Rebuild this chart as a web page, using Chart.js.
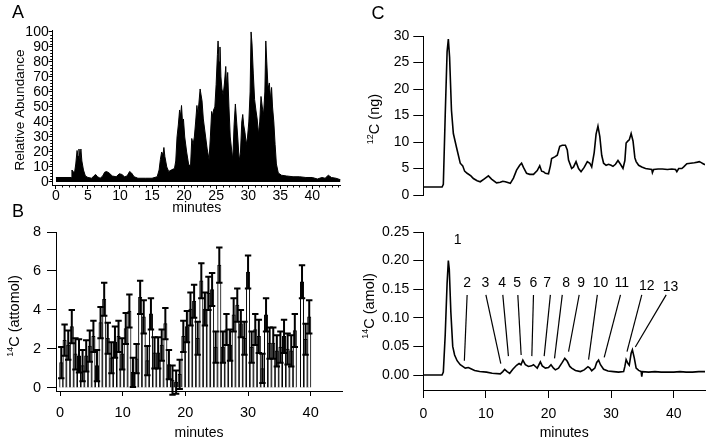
<!DOCTYPE html>
<html>
<head>
<meta charset="utf-8">
<script src="https://cdn.jsdelivr.net/npm/chart.js@4.4.1/dist/chart.umd.min.js"></script>
<style>
    html, body { margin: 0; padding: 0; background: #fff; }
    #wrap { position: relative; width: 712px; height: 445px; overflow: hidden; }
    #wrap canvas { position: absolute; left: 0; top: 0; }
</style>
</head>
<body>
<div id="wrap">
    <canvas id="chartA" width="712" height="445"></canvas>
    <canvas id="chartB" width="712" height="445"></canvas>
    <canvas id="chartC1" width="712" height="445"></canvas>
    <canvas id="chartC2" width="712" height="445"></canvas>
</div>
<script>
// Panel A: total ion chromatogram (minutes, relative abundance)
const aTimes = [0, 2.4, 2.5, 2.7, 2.9, 3.1, 3.3, 3.45, 3.6, 3.75, 3.9, 4.05, 4.3, 4.6, 5.0, 5.6, 5.9, 6.2, 6.5, 6.9,
    7.3, 7.6, 7.9, 8.3, 8.8, 9.4, 9.9, 10.3, 10.7, 11.1, 11.5, 11.8, 12.2, 12.8, 14, 15, 15.8, 16.1, 16.3, 16.5,
    16.7, 16.85, 17.0, 17.3, 17.6, 18.0, 18.5, 18.7, 18.9, 19.1, 19.3, 19.45, 19.6, 19.75, 19.9, 20.1, 20.4, 20.7, 21.0, 21.2,
    21.4, 21.6, 21.8, 22.0, 22.15, 22.3, 22.5, 22.65, 22.8, 23.0, 23.3, 23.6, 23.9, 24.1, 24.3, 24.45, 24.6, 24.8, 25.0, 25.2,
    25.3, 25.45, 25.6, 25.75, 25.9, 26.1, 26.3, 26.5, 26.65, 26.8, 27.0, 27.2, 27.4, 27.6, 27.8, 28.0, 28.2, 28.4, 28.6, 28.8,
    29.0, 29.15, 29.3, 29.5, 29.7, 29.9, 30.1, 30.3, 30.45, 30.6, 30.8, 31.0, 31.2, 31.4, 31.6, 31.8, 32.0, 32.2, 32.4, 32.6,
    32.75, 32.9, 33.1, 33.3, 33.5, 33.65, 33.8, 34.0, 34.2, 34.4, 34.7, 35.2, 36, 37, 38, 39, 40, 40.8, 41.5, 42,
    42.5, 43.0, 43.7, 44.4];
const aValues = [3, 3, 8, 7, 6, 12, 21, 17, 22, 15, 22, 14, 8, 4, 3, 2.5, 4, 5, 3.5, 2.5,
    4, 6.5, 7, 6, 4, 3.5, 5.5, 5, 3.5, 4, 7, 6, 3.5, 2.5, 2.5, 2.5, 3.5, 8, 15, 20,
    18, 23, 17, 10, 7, 8, 9, 14, 30, 38, 48, 44, 51, 40, 42, 30, 20, 12, 10, 29,
    25, 30, 40, 51, 45, 52, 62, 58, 54, 42, 32, 22, 15, 30, 47, 44, 48, 50, 65, 85,
    94, 80, 90, 70, 62, 58, 66, 77, 62, 73, 50, 30, 22, 15, 38, 52, 40, 28, 14, 20,
    40, 45, 38, 33, 25, 30, 40, 60, 100, 92, 72, 55, 48, 42, 32, 40, 57, 50, 45, 60,
    94, 80, 62, 66, 55, 63, 50, 40, 25, 12, 6, 4.5, 4, 3.5, 3.5, 3, 3, 2, 3, 2.5,
    4.5, 3, 2.5, 1.5];
const aMinorX = [1, 2, 3, 4, 6, 7, 8, 9, 11, 12, 13, 14, 16, 17, 18, 19, 21, 22, 23, 24, 26, 27, 28, 29,
    31, 32, 33, 34, 36, 37, 38, 39, 41, 42, 43, 44];
const aMinorY = [2, 4, 6, 8, 12, 14, 16, 18, 22, 24, 26, 28, 32, 34, 36, 38, 42, 44, 46, 48, 52, 54, 56, 58,
    62, 64, 66, 68, 72, 74, 76, 78, 82, 84, 86, 88, 92, 94, 96, 98];

// Panel B: 14C per fraction (attomol) with error bars
const bTimes = [0.2, 0.73, 1.31, 1.88, 2.46, 3.03, 3.6, 4.18, 4.75, 5.33, 5.9, 6.47, 7.05, 7.62, 8.2, 8.77, 9.34, 9.92,
    10.49, 11.07, 11.64, 12.21, 12.79, 13.36, 13.94, 14.51, 15.08, 15.66, 16.23, 16.81, 17.38, 17.95, 18.53, 19.1, 19.68,
    20.25, 20.82, 21.4, 21.97, 22.55, 23.12, 23.69, 24.27, 24.84, 25.42, 25.99, 26.56, 27.14, 27.71, 28.29, 28.86, 29.43,
    30.01, 30.58, 31.16, 31.73, 32.3, 32.88, 33.45, 34.03, 34.6, 35.17, 35.75, 36.32, 36.9, 37.47, 38.62, 39.19, 39.77];
const bMeans = [1.3, 2.45, 2.2, 3.15, 1.75, 1.65, 1.15, 1.65, 2.15, 2.65, 1.15, 3.35, 4.55, 2.55, 1.55, 2.35, 2.65, 1.75,
    3.05, 3.95, 0.8, 1.5, 4.65, 3.65, 1.4, 3.8, 1.8, 1.8, 2.2, 3.3, 1.2, 0.4, 0.3, 0.7, 2.65,
    3.15, 4.05, 4.45, 2.55, 5.5, 4.05, 4.85, 5.05, 2.1, 6.3, 2.1, 3.0, 2.2, 3.75, 4.25, 3.3, 2.55,
    5.95, 2.1, 3.0, 2.65, 1.0, 3.75, 2.3, 2.3, 1.9, 2.1, 2.65, 2.0, 1.9, 2.95, 5.45, 2.5, 3.65];
const bErr = [0.8, 0.8, 0.75, 0.85, 0.8, 0.85, 0.8, 0.8, 0.8, 0.8, 0.8, 0.8, 0.85, 0.8, 0.8, 0.8, 0.8, 0.8,
    0.8, 0.85, 0.75, 0.75, 0.85, 0.85, 0.75, 0.8, 0.8, 0.8, 0.8, 0.8, 0.75, 0.75, 0.6, 0.75, 0.8,
    0.8, 0.85, 0.85, 0.85, 0.9, 0.85, 0.85, 0.85, 0.8, 0.9, 0.8, 0.8, 0.8, 0.85, 0.85, 0.7, 0.85,
    0.85, 0.8, 0.8, 0.85, 0.75, 0.85, 0.8, 0.8, 0.8, 0.8, 0.85, 0.8, 0.8, 0.85, 0.85, 0.8, 0.85];

// Panel C top: 12C (ng)
const c12Times = [0, 3.0, 3.2, 3.5, 3.8, 4.0, 4.2, 4.5, 4.8, 5.3, 5.9, 6.3, 6.6, 7.0, 7.6, 8.0, 8.6, 9.1, 9.7, 10.4,
    10.9, 11.7, 12.3, 12.7, 13.1, 13.9, 14.4, 14.9, 15.4, 15.7, 16.0, 16.5, 17.0, 17.6, 18.2, 18.6, 18.9, 19.2, 19.5, 20.0,
    20.3, 20.5, 21.0, 21.4, 21.8, 22.2, 22.7, 23.0, 23.2, 23.7, 24.0, 24.4, 24.8, 25.2, 25.7, 26.2, 26.6, 26.9, 27.3, 27.6,
    27.9, 28.2, 28.5, 28.8, 29.2, 29.6, 30.0, 30.3, 30.7, 31.1, 31.5, 31.9, 32.2, 32.4, 32.7, 32.9, 33.2, 33.5, 33.8, 34.0,
    34.4, 34.9, 35.5, 36.0, 36.5, 36.6, 36.8, 37.5, 38.2, 39.0, 39.7, 40.3, 40.5, 40.8, 41.3, 41.6, 42.1, 42.7, 43.3, 43.8,
    44.1, 44.4, 44.7, 45.0];
const c12Values = [1.5, 1.5, 2.0, 15, 27, 29.4, 26, 16, 11.6, 9, 6.0, 5.5, 4.5, 4.1, 3.6, 3.1, 2.7, 2.5, 3.0, 3.6,
    3.0, 2.3, 2.4, 2.6, 2.5, 2.2, 3.2, 4.7, 5.6, 6.0, 5.2, 4.1, 3.9, 3.9, 4.6, 5.5, 4.5, 4.4, 4.1, 4.0,
    5.5, 6.9, 7.2, 7.5, 9.2, 9.4, 9.4, 8.5, 6.6, 5.0, 5.3, 6.3, 5.0, 4.4, 5.2, 6.3, 6.0, 5.3, 8, 11.5,
    13.0, 11, 7.5, 6.0, 5.6, 5.8, 5.6, 5.4, 5.8, 6.5, 5.8, 5.0, 6.5, 9.8, 10.2, 10.4, 11.6, 10.2, 7, 6.3,
    5.6, 5.3, 5.0, 4.9, 4.8, 4.2, 4.8, 4.9, 4.9, 4.8, 4.9, 4.8, 4.4, 5.0, 5.0, 5.3, 5.9, 6.0, 6.1, 6.2,
    6.3, 6.1, 5.9, 5.7];

// Panel C bottom: 14C (amol)
const c14Times = [0, 3.0, 3.2, 3.5, 3.8, 4.0, 4.15, 4.4, 4.7, 5.0, 5.4, 5.9, 6.3, 6.7, 7.2, 7.6, 8.2, 9.0, 10.1, 11.0,
    12.3, 12.7, 13.0, 13.4, 13.8, 14.3, 14.9, 15.3, 15.6, 15.9, 16.3, 16.8, 17.3, 17.6, 18.0, 18.2, 18.7, 19.0, 19.5, 20.0,
    20.4, 20.8, 21.1, 21.6, 22.2, 22.6, 23.0, 23.4, 23.7, 24.3, 25.1, 25.7, 26.3, 26.6, 26.9, 27.4, 27.7, 28.0, 28.3, 28.8,
    29.5, 30.4, 31.2, 32.0, 32.2, 32.4, 32.7, 32.9, 33.2, 33.4, 33.7, 34.0, 34.4, 34.8, 34.9, 35.0, 36, 37, 38, 39,
    40, 41, 42, 43, 44, 45];
const c14Values = [0, 0, 0.005, 0.07, 0.16, 0.2, 0.185, 0.11, 0.05, 0.035, 0.025, 0.018, 0.015, 0.012, 0.013, 0.011, 0.008, 0.006, 0.005, 0.003,
    0.002, 0.006, 0.01, 0.006, 0.003, 0.01, 0.017, 0.02, 0.018, 0.026, 0.018, 0.015, 0.016, 0.018, 0.014, 0.012, 0.023, 0.016, 0.012, 0.013,
    0.018, 0.012, 0.009, 0.012, 0.022, 0.029, 0.024, 0.015, 0.012, 0.008, 0.006, 0.009, 0.0145, 0.012, 0.0075, 0.012, 0.022, 0.026, 0.018, 0.01,
    0.007, 0.006, 0.005, 0.006, 0.015, 0.027, 0.02, 0.017, 0.038, 0.044, 0.03, 0.012, 0.008, 0.006, -0.003, 0.006, 0.005, 0.006, 0.005, 0.005,
    0.005, 0.006, 0.005, 0.005, 0.006, 0.006];

// peak numbering in panel C
const peakNames = ['1', '2', '3', '4', '5', '6', '7', '8', '9', '10', '11', '12', '13'];
const peakLabelT = [5.5, 7.0, 9.9, 12.6, 15.0, 17.6, 19.8, 22.8, 25.2, 28.3, 31.7, 35.7, 39.5];
const peakLabelV = [0.236, 0.16, 0.16, 0.16, 0.16, 0.16, 0.16, 0.16, 0.16, 0.16, 0.16, 0.156, 0.154];
const leaderStartT = [null, 7.0, 10.0, 12.7, 15.1, 17.6, 20.3, 22.2, 24.9, 27.8, 31.5, 34.9, 38.8];
const leaderEndT = [null, 6.56, 12.38, 13.6, 15.63, 17.34, 19.31, 20.96, 23.2, 26.4, 28.9, 32.54, 33.87];
const leaderEndV = [null, 0.025, 0.020, 0.033, 0.035, 0.033, 0.033, 0.029, 0.041, 0.027, 0.031, 0.041, 0.049];

const FONT = '"Liberation Sans", Arial, sans-serif';
Chart.defaults.font.family = FONT;
Chart.defaults.color = '#000';
Chart.defaults.animation = false;
Chart.defaults.events = [];

const toPoints = (xs, ys) => xs.map((x, i) => ({ x: x, y: ys[i] }));

function axis(o) {
    return {
        type: 'linear',
        display: o.display !== false,
        min: o.min,
        max: o.max,
        offset: false,
        border: { display: true, color: '#000', width: 1 },
        grid: { display: true, drawOnChartArea: false, drawTicks: true, tickLength: o.tickLength,
            tickColor: '#000', tickWidth: 1, offset: false },
        ticks: {
            stepSize: o.step,
            includeBounds: false,
            autoSkip: false,
            maxRotation: 0,
            padding: o.padding,
            color: '#000',
            font: { size: o.fontSize, lineHeight: 1 },
            callback: (v) => (o.decimals ? v.toFixed(o.decimals) : String(v))
        },
        title: o.title
            ? { display: true, text: o.title, color: '#000', padding: 0, font: { size: 14, lineHeight: 1.2 } }
            : { display: false },
        afterBuildTicks: (s) => { s.ticks = s.ticks.filter(t => t.value >= -1e-9); },
        afterFit: (s) => {
            if (s.isHorizontal()) s.height = o.size; else s.width = o.size;
            s.paddingTop = 0; s.paddingBottom = 0; s.paddingLeft = 0; s.paddingRight = 0;
        }
    };
}

// letters and rotated y titles with superscripts
const panelText = {
    id: 'panelText',
    afterDraw(chart, args, opts) {
        const { ctx, chartArea } = chart;
        ctx.save();
        ctx.fillStyle = '#000';
        if (opts.letter) {
            ctx.font = '18px ' + FONT;
            ctx.textAlign = 'center';
            ctx.textBaseline = 'middle';
            ctx.fillText(opts.letter, opts.letterX, opts.letterY);
        }
        if (opts.title) {
            const cx = chartArea.left - opts.titleOffset;
            const cy = (chartArea.top + chartArea.bottom) / 2 + opts.titleDy;
            const mainFont = opts.titleSize + 'px ' + FONT;
            const supFont = Math.round(opts.titleSize * 0.65) + 'px ' + FONT;
            ctx.translate(cx, cy);
            ctx.rotate(-Math.PI / 2);
            ctx.font = supFont;
            const sw = opts.sup ? ctx.measureText(opts.sup).width : 0;
            ctx.font = mainFont;
            const mw = ctx.measureText(opts.title).width;
            const x0 = -(sw + mw) / 2;
            ctx.textAlign = 'left';
            ctx.textBaseline = 'middle';
            if (opts.sup) {
                ctx.font = supFont;
                ctx.fillText(opts.sup, x0, -opts.titleSize * 0.33);
            }
            ctx.font = mainFont;
            ctx.fillText(opts.title, x0 + sw, 0);
        }
        ctx.restore();
    }
};

// short minor tick marks on panel A axes
const minorTicks = {
    id: 'minorTicks',
    afterDraw(chart) {
        const { ctx, chartArea, scales: { x, y } } = chart;
        ctx.save();
        ctx.strokeStyle = '#000';
        ctx.lineWidth = 1;
        ctx.beginPath();
        aMinorX.forEach(v => {
            const px = Math.round(x.getPixelForValue(v)) + 0.5;
            ctx.moveTo(px, chartArea.bottom); ctx.lineTo(px, chartArea.bottom + 2.5);
        });
        aMinorY.forEach(v => {
            const py = Math.round(y.getPixelForValue(v)) + 0.5;
            ctx.moveTo(chartArea.left, py); ctx.lineTo(chartArea.left - 2.5, py);
        });
        ctx.stroke();
        ctx.restore();
    }
};

const errorBars = {
    id: 'errorBars',
    afterDatasetsDraw(chart) {
        const { ctx, scales: { x, y } } = chart;
        ctx.save();
        ctx.strokeStyle = '#000';
        ctx.lineWidth = 2;
        bTimes.forEach((t, i) => {
            const px = x.getPixelForValue(t);
            const hi = y.getPixelForValue(bMeans[i] + bErr[i]);
            const lo = y.getPixelForValue(bMeans[i] - bErr[i]);
            ctx.beginPath();
            ctx.moveTo(px, hi); ctx.lineTo(px, lo);
            ctx.moveTo(px - 3.2, hi); ctx.lineTo(px + 3.2, hi);
            ctx.moveTo(px - 3.2, lo); ctx.lineTo(px + 3.2, lo);
            ctx.stroke();
        });
        ctx.restore();
    }
};

const peakLabels = {
    id: 'peakLabels',
    afterDraw(chart) {
        const { ctx, scales: { x, y } } = chart;
        ctx.save();
        ctx.fillStyle = '#000';
        ctx.strokeStyle = '#000';
        ctx.lineWidth = 1.2;
        ctx.font = '14px ' + FONT;
        ctx.textAlign = 'center';
        ctx.textBaseline = 'middle';
        peakNames.forEach((name, i) => {
            ctx.fillText(name, x.getPixelForValue(peakLabelT[i]), y.getPixelForValue(peakLabelV[i]));
            if (leaderStartT[i] !== null) {
                ctx.beginPath();
                ctx.moveTo(x.getPixelForValue(leaderStartT[i]), y.getPixelForValue(0.14));
                ctx.lineTo(x.getPixelForValue(leaderEndT[i]), y.getPixelForValue(leaderEndV[i]));
                ctx.stroke();
            }
        });
        ctx.restore();
    }
};

const baseOptions = (padding) => ({
    responsive: false,
    animation: false,
    layout: { padding: padding }
});

// A
new Chart(document.getElementById('chartA'), {
    type: 'line',
    data: {
        datasets: [{
            data: toPoints(aTimes, aValues),
            borderColor: '#000',
            backgroundColor: '#000',
            borderWidth: 1,
            fill: 'origin',
            pointRadius: 0,
            tension: 0
        }]
    },
    options: Object.assign(baseOptions({ left: 7.7, right: 371.2, top: 30, bottom: 228.6 }), {
        scales: {
            x: axis({ min: -0.5, max: 44.45, step: 5, tickLength: 4, padding: 0, fontSize: 14, size: 31.4,
                title: 'minutes' }),
            y: axis({ min: -2, max: 101.3, step: 10, tickLength: 4, padding: 0, fontSize: 14, size: 45 })
        },
        plugins: {
            legend: { display: false }, tooltip: { enabled: false },
            panelText: { letter: 'A', letterX: 18, letterY: 13, title: 'Relative Abundance', titleSize: 13.5,
                titleOffset: 32.7, titleDy: 2.5 }
        }
    }),
    plugins: [minorTicks, panelText]
});

// B
new Chart(document.getElementById('chartB'), {
    type: 'bar',
    data: {
        datasets: [{
            data: toPoints(bTimes, bMeans),
            backgroundColor: '#ffffff',
            borderColor: '#000',
            borderWidth: 1,
            barThickness: 3.4,
            grouped: false
        }]
    },
    options: Object.assign(baseOptions({ left: 11, right: 370, top: 232, bottom: 3.6 }), {
        scales: {
            x: axis({ min: -0.64, max: 45, step: 10, tickLength: 5, padding: 10, fontSize: 14.5, size: 50.4,
                title: 'minutes' }),
            y: axis({ min: -0.154, max: 8, step: 2, tickLength: 9, padding: 6, fontSize: 14.5, size: 45 })
        },
        plugins: {
            legend: { display: false }, tooltip: { enabled: false },
            panelText: { letter: 'B', letterX: 18, letterY: 212, title: 'C (attomol)', sup: '14', titleSize: 14.5,
                titleOffset: 41, titleDy: 4.5 }
        }
    }),
    plugins: [errorBars, panelText]
});

// C top
new Chart(document.getElementById('chartC1'), {
    type: 'line',
    data: {
        datasets: [{
            data: toPoints(c12Times, c12Values),
            borderColor: '#000',
            borderWidth: 1.6,
            fill: false,
            pointRadius: 0,
            tension: 0
        }]
    },
    options: Object.assign(baseOptions({ left: 373.3, right: 7, top: 36, bottom: 250 }), {
        scales: {
            x: axis({ display: false, min: 0, max: 45, step: 10, tickLength: 0, padding: 0, fontSize: 14, size: 0 }),
            y: axis({ min: 0, max: 30, step: 5, tickLength: 10, padding: 4, fontSize: 14, size: 50 })
        },
        plugins: {
            legend: { display: false }, tooltip: { enabled: false },
            panelText: { letter: 'C', letterX: 378, letterY: 14, title: 'C (ng)', sup: '12', titleSize: 14.5,
                titleOffset: 48, titleDy: 3.5 }
        }
    }),
    plugins: [panelText]
});

// C bottom
new Chart(document.getElementById('chartC2'), {
    type: 'line',
    data: {
        datasets: [{
            data: toPoints(c14Times, c14Values),
            borderColor: '#000',
            borderWidth: 1.6,
            fill: false,
            pointRadius: 0,
            tension: 0
        }]
    },
    options: Object.assign(baseOptions({ left: 373.3, right: 7, top: 232, bottom: 3.6 }), {
        scales: {
            x: axis({ min: 0, max: 45, step: 10, tickLength: 8, padding: 9, fontSize: 14, size: 51.4,
                title: 'minutes' }),
            y: axis({ min: -0.0262, max: 0.25, step: 0.05, tickLength: 10, padding: 4, fontSize: 14, size: 50,
                decimals: 2 })
        },
        plugins: {
            legend: { display: false }, tooltip: { enabled: false },
            panelText: { title: 'C (amol)', sup: '14', titleSize: 14.5, titleOffset: 53, titleDy: -5 }
        }
    }),
    plugins: [peakLabels, panelText]
});
</script>
</body>
</html>
